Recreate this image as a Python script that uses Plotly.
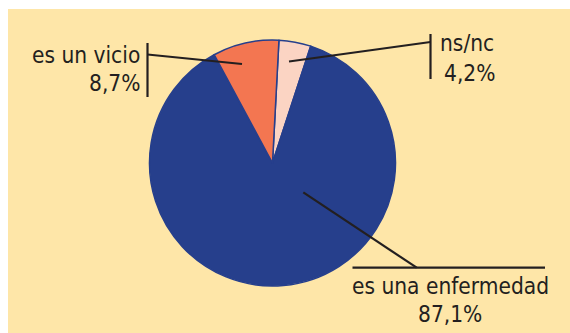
import plotly.graph_objects as go

# Data
categories = ["ns/nc", "es una enfermedad", "es un vicio"]
values = [4.2, 87.1, 8.7]
value_labels = ["4,2%", "87,1%", "8,7%"]
colors = ["#FBD4C3", "#263F8C", "#F37651"]

W, H = 570, 333
BG = "#FEE6A8"
INK = "#231F20"
FONT = "DejaVu Sans Condensed, Liberation Sans Narrow, sans-serif"
FS = 22.5

def px(x):
    return x / W

def py(y):
    return 1 - y / H

cx, cy, r = 272.5, 163, 123

fig = go.Figure()
fig.add_trace(go.Pie(
    labels=categories,
    values=values,
    sort=False,
    direction="clockwise",
    rotation=3,
    marker=dict(colors=colors, line=dict(color="#263F8C", width=1.5)),
    textinfo="none",
    hoverinfo="label+percent",
    showlegend=False,
    domain=dict(x=[px(cx - r), px(cx + r)], y=[py(cy + r), py(cy - r)]),
))

shapes = []
# yellow background panel
shapes.append(dict(type="rect", xref="paper", yref="paper", x0=px(8), x1=1, y0=0, y1=py(9),
                   fillcolor=BG, line=dict(width=0), layer="below"))

def seg(x0, y0, x1, y1):
    shapes.append(dict(type="line", xref="paper", yref="paper",
                       x0=px(x0), y0=py(y0), x1=px(x1), y1=py(y1),
                       line=dict(color=INK, width=2.2)))

# es un vicio
seg(147.5, 43, 147.5, 97)
seg(147.5, 54.5, 242, 64)
# ns/nc
seg(430.5, 34, 430.5, 79)
seg(430.5, 42, 289, 61.5)
# es una enfermedad
seg(352.5, 267.7, 545, 267.7)
seg(416.7, 267.7, 303.3, 192.3)

annotations = []
def label(text, x, y, anchor):
    annotations.append(dict(text=text, x=px(x), y=py(y), xref="paper", yref="paper",
                            xanchor=anchor, yanchor="middle", showarrow=False,
                            font=dict(family=FONT, size=FS, color=INK)))

label(categories[2], 142, 55.5, "right")
label(value_labels[2], 142, 83.5, "right")
label(categories[0], 467, 43, "center")
label(value_labels[0], 469, 73, "center")
label(categories[1], 450.5, 285.5, "center")
label(value_labels[1], 450, 313.5, "center")

fig.update_layout(
    width=W, height=H,
    margin=dict(l=0, r=0, t=0, b=0),
    paper_bgcolor="white",
    plot_bgcolor="white",
    shapes=shapes,
    annotations=annotations,
)

fig.write_html("out.html")
